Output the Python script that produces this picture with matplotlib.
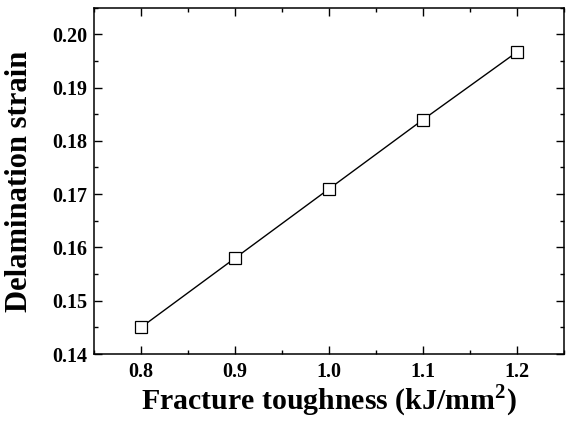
import matplotlib
matplotlib.use("Agg")
import matplotlib.pyplot as plt
from matplotlib.ticker import MultipleLocator

toughness = [0.8, 0.9, 1.0, 1.1, 1.2]
strain = [0.145, 0.158, 0.171, 0.184, 0.1967]

plt.rcParams['font.family'] = ['Liberation Serif', 'DejaVu Serif']
plt.rcParams['font.weight'] = 'bold'
plt.rcParams['mathtext.fontset'] = 'custom'
plt.rcParams['mathtext.rm'] = 'Liberation Serif:bold'
plt.rcParams['mathtext.bf'] = 'Liberation Serif:bold'

fig = plt.figure(figsize=(5.66, 4.21), dpi=100)
ax = fig.add_axes([0.166, 0.159, 0.831, 0.823])
ax.plot(toughness, strain, color='black', lw=1.0, marker='s', ms=9,
        mfc='white', mec='black', mew=0.9)
ax.set_xlim(0.75, 1.25)
ax.set_ylim(0.14, 0.205)
ax.xaxis.set_major_locator(MultipleLocator(0.1))
ax.xaxis.set_minor_locator(MultipleLocator(0.05))
ax.yaxis.set_major_locator(MultipleLocator(0.01))
ax.yaxis.set_minor_locator(MultipleLocator(0.005))
ax.xaxis.set_major_formatter(plt.FormatStrFormatter('%.1f'))
ax.yaxis.set_major_formatter(plt.FormatStrFormatter('%.2f'))
ax.tick_params(which='both', direction='in', top=True, right=True, width=1.0)
ax.tick_params(which='major', length=5.5, labelsize=14.5)
ax.tick_params(axis='x', which='major', pad=6)
ax.tick_params(axis='y', which='major', pad=5)
ax.tick_params(which='minor', length=3)
for s in ax.spines.values():
    s.set_linewidth(1.1)
for lab in ax.get_xticklabels() + ax.get_yticklabels():
    lab.set_fontweight('bold')
ax.set_xlabel('Fracture toughness (kJ/mm$^{2}$)', fontsize=21.5, fontweight='bold', labelpad=0)
ax.set_ylabel('Delamination strain', fontsize=22, fontweight='bold', labelpad=13)
fig.savefig('out.png', dpi=100)
